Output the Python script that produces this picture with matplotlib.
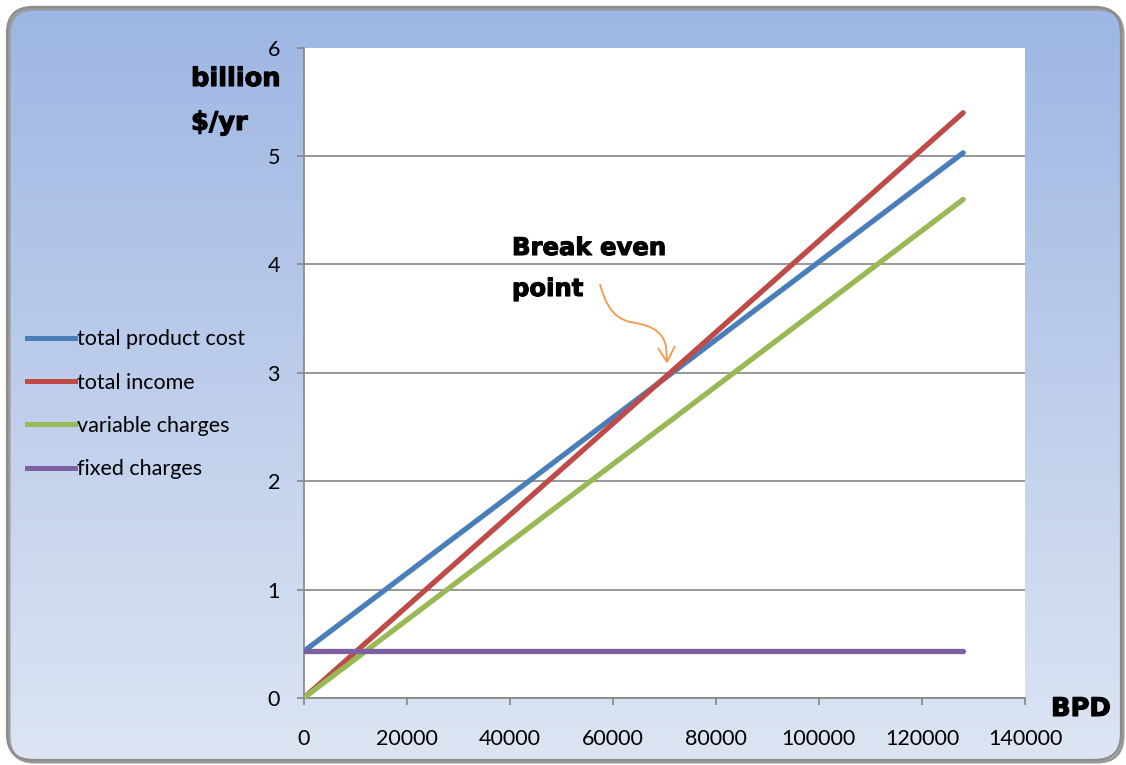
import numpy as np
import matplotlib
matplotlib.use("Agg")
import matplotlib.pyplot as plt
import matplotlib.patheffects as pe
from matplotlib.patches import FancyBboxPatch, PathPatch
from matplotlib.path import Path
from matplotlib.lines import Line2D

# --- data -------------------------------------------------------------
bpd = [0, 128000]
total_product_cost = [0.43, 5.03]
total_income = [0.0, 5.40]
variable_charges = [0.0, 4.60]
fixed_charges = [0.43, 0.43]

series_names = ["total product cost", "total income", "variable charges", "fixed charges"]
series_colors = ["#4A7EBB", "#BE4B48", "#98B954", "#7D60A0"]

x_ticks = [0, 20000, 40000, 60000, 80000, 100000, 120000, 140000]
y_ticks = [0, 1, 2, 3, 4, 5, 6]

W, H = 1126, 765
DPI = 100
fig = plt.figure(figsize=(W / DPI, H / DPI), dpi=DPI)
fig.patch.set_facecolor("white")

# --- rounded panel with vertical blue gradient -------------------------
bg = fig.add_axes([0, 0, 1, 1])
bg.set_xlim(0, W)
bg.set_ylim(H, 0)
bg.axis("off")

top_c = np.array([157, 182, 227]) / 255
bot_c = np.array([221, 229, 243]) / 255
t = np.linspace(0, 1, 256)[:, None]
grad = (top_c[None, :] * (1 - t) + bot_c[None, :] * t)[:, None, :]
grad = np.repeat(grad, 2, axis=1)

panel_kw = dict(boxstyle="round,pad=0,rounding_size=26")
shadow = FancyBboxPatch((9, 9), 1114, 753, fc="none", ec="#9a9a9a", lw=2.2, **panel_kw)
bg.add_patch(shadow)
panel = FancyBboxPatch((7, 7), 1114, 753, fc="none", ec="#8c8c8c", lw=1.6, **panel_kw)
bg.add_patch(panel)
im = bg.imshow(grad, extent=(7, 1121, 760, 7), aspect="auto", interpolation="bilinear")
im.set_clip_path(panel)

# --- plot area --------------------------------------------------------
ax = fig.add_axes([303.7 / W, 1 - 698 / H, (1025 - 303.7) / W, (698 - 47.7) / H])
ax.set_facecolor("white")
ax.set_xlim(0, 140000)
ax.set_ylim(0, 6)

for ys, color, name in zip([total_product_cost, total_income, variable_charges, fixed_charges],
                           series_colors, series_names):
    ax.plot(bpd, ys, color=color, lw=3.8, solid_capstyle="round", label=name, zorder=3)

ax.set_xticks(x_ticks)
ax.set_xticklabels([str(v) for v in x_ticks])
ax.set_yticks(y_ticks)
ax.set_yticklabels([str(v) for v in y_ticks])

ax.yaxis.grid(True, color="#868686", lw=1.2)
ax.get_ygridlines()[-1].set_visible(False)
ax.set_axisbelow(True)

for side in ("top", "right"):
    ax.spines[side].set_visible(False)
for side in ("left", "bottom"):
    ax.spines[side].set_color("#868686")
    ax.spines[side].set_linewidth(1.2)

ax.tick_params(axis="both", colors="#868686", length=5, width=1.2, direction="out")
ax.tick_params(axis="x", pad=17, labelcolor="black")
ax.tick_params(axis="y", pad=12, labelcolor="black")
for lab in ax.get_xticklabels() + ax.get_yticklabels():
    lab.set_fontfamily(["Lato", "DejaVu Sans"])
    lab.set_fontsize(15.5)

# --- heavy captions ----------------------------------------------------
heavy = dict(family=["DejaVu Sans"], weight="bold", color="black",
             path_effects=[pe.withStroke(linewidth=0.8, foreground="black")])


def fig_text(xp, yp, s, size):
    fig.text(xp / W, 1 - yp / H, s, fontsize=size, ha="left", va="baseline", **heavy)


fig_text(191, 86, "billion", 18.5)
fig_text(191, 130, "$/yr", 18.5)
fig_text(1051, 716, "BPD", 18.5)
fig_text(512, 255, "Break even", 17.5)
fig_text(512, 296, "point", 17.5)


# --- hand-drawn arrow to the break-even point -----------------------------
def px(xp, yp):
    """pixel position in the figure -> data coordinates of the plot axes"""
    disp = fig.transFigure.transform((xp / W, 1 - yp / H))
    return ax.transData.inverted().transform(disp)


curve_pts = [px(600, 284), px(606, 306), px(614, 318), px(630, 322),
             px(650, 325), px(662, 330), px(666, 346), px(667, 362)]
codes = [Path.MOVETO] + [Path.CURVE4] * 6 + [Path.LINETO]
ax.add_patch(PathPatch(Path(curve_pts, codes), fc="none", ec="#F79646", lw=1.3, zorder=4))
head = Path([px(658, 348), px(667, 362), px(675, 346)],
            [Path.MOVETO, Path.LINETO, Path.LINETO])
ax.add_patch(PathPatch(head, fc="none", ec="#F79646", lw=1.3, zorder=4))

# --- legend --------------------------------------------------------------
handles = [Line2D([0], [0], color=c, lw=3.6) for c in series_colors]
fig.legend(handles, series_names, loc="upper left",
           bbox_to_anchor=(8 / W, 1 - 310 / H), frameon=False,
           handlelength=2.2, handletextpad=0.1, labelspacing=1.08,
           prop=dict(family=["Lato", "DejaVu Sans"], size=15.5))

fig.savefig("out.png", dpi=DPI)
